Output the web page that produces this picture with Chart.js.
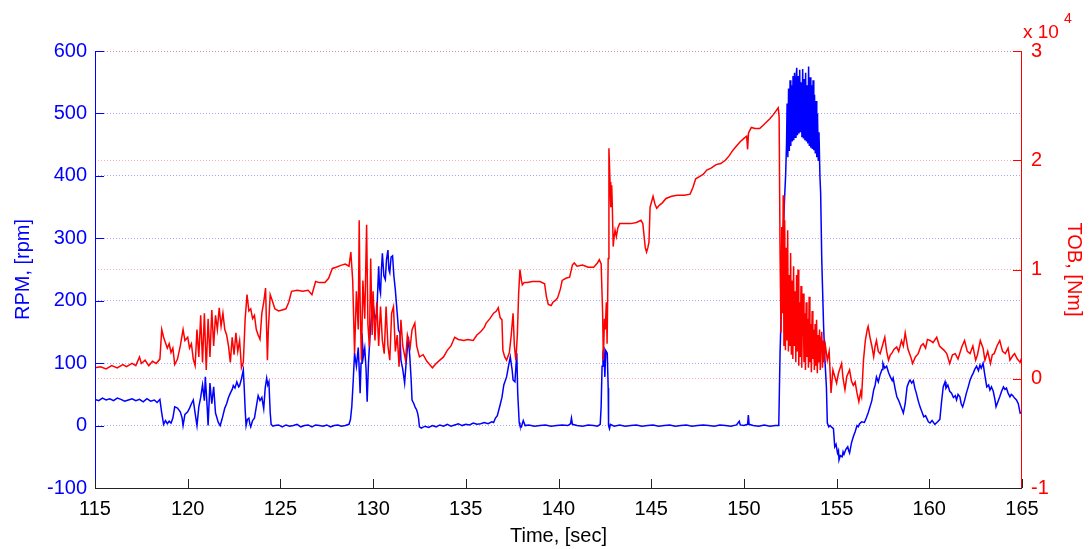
<!DOCTYPE html>
<html>
<head>
<meta charset="utf-8">
<title>RPM and TOB vs time</title>
<script src="https://cdn.jsdelivr.net/npm/chart.js@4.4.1/dist/chart.umd.min.js"></script>
<style>
  html, body { margin: 0; padding: 0; background: #fff; }
  #wrap { width: 1089px; height: 549px; position: relative; }
</style>
</head>
<body>
<div id="wrap"><canvas id="rpmTobChart"></canvas></div>
<script>
// rotary speed, [rpm]
const rpmTime = [
  115.0, 115.2, 115.4, 115.6, 115.8, 116.0, 116.2, 116.4, 116.6, 116.8, 117.0, 117.2, 117.4, 117.6, 117.8, 118.0, 118.2, 118.35, 118.5, 118.6,
  118.7, 118.8, 118.9, 119.0, 119.1, 119.2, 119.3, 119.45, 119.6, 119.7, 119.75, 119.85, 120.0, 120.1, 120.2, 120.3, 120.4, 120.5, 120.6, 120.7,
  120.8, 120.9, 120.95, 121.05, 121.1, 121.2, 121.3, 121.4, 121.5, 121.56, 121.65, 121.75, 121.85, 121.9, 122.0, 122.1, 122.2, 122.3, 122.4, 122.46,
  122.55, 122.65, 122.75, 122.8, 122.9, 123.0, 123.05, 123.1, 123.15, 123.22, 123.3, 123.35, 123.4, 123.5, 123.6, 123.7, 123.8, 123.9, 124.0, 124.1,
  124.18, 124.26, 124.32, 124.38, 124.45, 124.5, 124.6, 124.7, 124.9, 125.1, 125.3, 125.5, 125.7, 125.9, 126.1, 126.3, 126.5, 126.7, 126.9, 127.1,
  127.3, 127.5, 127.7, 127.9, 128.1, 128.3, 128.5, 128.7, 128.78, 128.85, 128.93, 129.0, 129.1, 129.2, 129.25, 129.3, 129.35, 129.4, 129.47, 129.55,
  129.62, 129.68, 129.75, 129.83, 129.9, 130.0, 130.1, 130.2, 130.3, 130.35, 130.4, 130.45, 130.5, 130.58, 130.66, 130.72, 130.8, 130.85, 130.9, 130.97,
  131.05, 131.12, 131.2, 131.3, 131.37, 131.45, 131.5, 131.6, 131.7, 131.78, 131.9, 131.98, 132.05, 132.1, 132.2, 132.26, 132.35, 132.4, 132.45, 132.5,
  132.6, 132.8, 133.0, 133.2, 133.4, 133.6, 133.8, 134.0, 134.2, 134.4, 134.6, 134.8, 135.0, 135.2, 135.4, 135.6, 135.8, 136.0, 136.2, 136.4,
  136.5, 136.6, 136.7, 136.85, 136.95, 137.05, 137.2, 137.3, 137.4, 137.5, 137.55, 137.65, 137.75, 137.8, 137.88, 137.92, 138.0, 138.1, 138.2, 138.4,
  138.7, 139.0, 139.3, 139.6, 139.9, 140.2, 140.5, 140.65, 140.7, 140.75, 141.0, 141.3, 141.6, 141.9, 142.1, 142.25, 142.3, 142.35, 142.4, 142.45,
  142.5, 142.55, 142.63, 142.68, 142.7, 142.75, 142.8, 143.0, 143.3, 143.6, 143.9, 144.2, 144.5, 144.8, 145.1, 145.4, 145.7, 146.0, 146.3, 146.6,
  146.9, 147.2, 147.5, 147.8, 148.1, 148.4, 148.7, 149.0, 149.3, 149.6, 149.75, 149.8, 150.0, 150.2, 150.24, 150.28, 150.5, 150.8, 151.1, 151.4,
  151.7, 151.88, 151.95, 152.04, 152.13, 152.2, 152.25, 152.3, 152.33, 152.37, 152.41, 152.45, 152.49, 152.53, 152.57, 152.61, 152.65, 152.69, 152.73, 152.77,
  152.81, 152.85, 152.89, 152.93, 152.97, 153.01, 153.05, 153.09, 153.13, 153.17, 153.21, 153.25, 153.29, 153.33, 153.37, 153.41, 153.45, 153.49, 153.53, 153.57,
  153.61, 153.65, 153.69, 153.73, 153.77, 153.81, 153.85, 153.89, 153.93, 153.97, 154.01, 154.05, 154.1, 154.14, 154.2, 154.3, 154.37, 154.45, 154.5, 154.58,
  154.65, 154.75, 154.83, 154.9, 154.97, 155.05, 155.1, 155.13, 155.2, 155.3, 155.35, 155.4, 155.5, 155.6, 155.65, 155.7, 155.8, 155.9, 156.0, 156.1,
  156.17, 156.24, 156.35, 156.5, 156.6, 156.7, 156.8, 156.9, 157.0, 157.08, 157.15, 157.25, 157.35, 157.45, 157.5, 157.6, 157.7, 157.8, 157.9, 158.0,
  158.05, 158.15, 158.25, 158.35, 158.4, 158.5, 158.6, 158.7, 158.8, 158.9, 158.96, 159.05, 159.14, 159.22, 159.3, 159.4, 159.5, 159.6, 159.7, 159.8,
  159.86, 159.95, 160.04, 160.15, 160.3, 160.45, 160.57, 160.65, 160.75, 160.85, 160.9, 161.0, 161.1, 161.2, 161.3, 161.4, 161.47, 161.55, 161.65, 161.72,
  161.8, 161.9, 162.0, 162.1, 162.2, 162.3, 162.37, 162.45, 162.55, 162.65, 162.73, 162.8, 162.9, 163.0, 163.1, 163.2, 163.27, 163.35, 163.45, 163.55,
  163.6, 163.7, 163.8, 163.9, 164.0, 164.08, 164.16, 164.25, 164.35, 164.42, 164.5, 164.6, 164.7, 164.8, 164.9, 165.0
];
const rpmValues = [
  42, 40, 44, 41, 43, 40, 44, 42, 39, 41, 43, 40, 42, 38, 43, 39, 41, 37, 42, 20,
  2, 8, 3, 7, 4, 12, 30, 28, 22, 12, 0, 18, 22, 28, 35, 41, 20, 0, 30, 45,
  65, 40, 78, 30, 0, 68, 35, 62, 20, 14, 5, 0, 10, 16, 28, 35, 45, 52, 58, 64,
  60, 70, 62, 64, 75, 89, 60, 25, 0, 10, 12, 3, -2, 8, 12, 30, 48, 40, 45, 27,
  60, 76, 65, 70, 21, 2, -1, 0, 1, -2, 1, -1, 0, 2, -2, 0, 1, -2, 1, 0,
  -1, 1, -2, 0, 1, -1, 0, 2, 10, 30, 73, 116, 95, 125, 90, 52, 100, 148, 110, 124,
  90, 38, 100, 142, 170, 196, 170, 180, 255, 220, 212, 250, 276, 240, 234, 265, 281, 250, 245, 270,
  272, 240, 217, 180, 153, 148, 105, 90, 68, 100, 142, 110, 75, 41, 35, 30, 25, 20, 12, -2,
  -4, -1, -3, 0, -2, 1, -1, 2, -1, 1, 3, 0, 2, 1, 4, 2, 3, 5, 3, 6,
  5, 12, 16, 33, 45, 65, 78, 95, 110, 89, 73, 70, 116, 52, 5, 0, -2, 8, 0, 1,
  -1, 0, 1, -1, 0, 1, 0, 3, 12, 2, 0, -1, 1, 0, -1, 2, 30, 95, 116, 126,
  78, 120, 116, 60, 0, -5, 2, -1, 1, -1, 0, 1, -1, 0, 1, -1, 0, 1, -1, 0,
  1, -1, 0, 1, 0, -1, 1, 0, -1, 1, 7, 1, 0, 2, 17, 2, 0, -1, 1, -1,
  0, 0, 116, 212, 319, 368, 400, 452, 516, 430, 540, 440, 553, 448, 545, 455, 560, 457, 565, 462,
  555, 573, 465, 560, 468, 570, 470, 550, 462, 571, 460, 555, 457, 565, 455, 545, 452, 575, 448, 558,
  445, 545, 443, 553, 441, 530, 436, 520, 430, 500, 425, 470, 400, 372, 265, 158, 105, 62, 4, -2,
  0, -3, -5, -34, -30, -44, -40, -55, -48, -50, -42, -46, -38, -34, -40, -44, -28, -18, -10, 0,
  -2, 3, 6, 5, 12, 20, 30, 40, 57, 65, 78, 70, 82, 90, 100, 92, 95, 85, 78, 72,
  76, 60, 46, 40, 36, 28, 20, 35, 62, 70, 73, 68, 72, 60, 52, 40, 30, 22, 14, 16,
  12, 6, 4, 8, 2, 6, 10, 35, 62, 70, 60, 65, 55, 52, 45, 48, 41, 50, 46, 35,
  30, 40, 52, 62, 73, 80, 84, 90, 95, 88, 97, 92, 100, 80, 62, 65, 57, 62, 55, 40,
  30, 38, 46, 55, 62, 58, 60, 52, 46, 50, 48, 44, 41, 35, 20, 22
];

// torque on bit, [Nm] x 10^4
const tobTime = [
  115.0, 115.3, 115.6, 115.9, 116.2, 116.5, 116.7, 117.0, 117.2, 117.4, 117.5, 117.7, 117.9, 118.1, 118.3, 118.5, 118.6, 118.7, 118.8, 118.9,
  119.0, 119.1, 119.2, 119.3, 119.45, 119.6, 119.75, 119.85, 120.0, 120.1, 120.2, 120.3, 120.4, 120.5, 120.6, 120.7, 120.8, 120.9, 121.0, 121.1,
  121.2, 121.3, 121.4, 121.5, 121.6, 121.7, 121.8, 121.9, 122.0, 122.1, 122.2, 122.3, 122.4, 122.5, 122.6, 122.7, 122.8, 122.9, 123.0, 123.1,
  123.2, 123.3, 123.4, 123.5, 123.6, 123.7, 123.8, 123.9, 124.0, 124.1, 124.2, 124.3, 124.35, 124.45, 124.55, 124.7, 124.9, 125.1, 125.3, 125.45,
  125.6, 125.9, 126.2, 126.5, 126.7, 126.9, 127.1, 127.4, 127.6, 127.8, 128.0, 128.3, 128.5, 128.7, 128.8, 128.9, 129.0, 129.1, 129.2, 129.25,
  129.3, 129.37, 129.45, 129.55, 129.65, 129.72, 129.8, 129.87, 129.95, 130.0, 130.1, 130.2, 130.3, 130.4, 130.5, 130.6, 130.7, 130.8, 130.9, 131.0,
  131.1, 131.2, 131.3, 131.4, 131.5, 131.6, 131.75, 131.85, 132.0, 132.1, 132.25, 132.35, 132.5, 132.7, 132.9, 133.05, 133.2, 133.4, 133.6, 133.8,
  134.0, 134.2, 134.4, 134.6, 134.9, 135.1, 135.4, 135.6, 135.8, 136.0, 136.1, 136.3, 136.5, 136.65, 136.75, 136.85, 136.95, 137.0, 137.1, 137.2,
  137.35, 137.45, 137.55, 137.62, 137.7, 137.78, 137.85, 137.92, 138.0, 138.05, 138.15, 138.3, 138.6, 139.0, 139.25, 139.35, 139.45, 139.6, 139.7, 139.85,
  139.95, 140.1, 140.2, 140.4, 140.6, 140.75, 140.85, 141.0, 141.3, 141.6, 141.9, 142.1, 142.2, 142.3, 142.38, 142.42, 142.48, 142.52, 142.58, 142.62,
  142.68, 142.72, 142.78, 142.82, 142.87, 142.9, 142.95, 143.0, 143.05, 143.12, 143.2, 143.3, 143.6, 143.9, 144.2, 144.45, 144.55, 144.62, 144.68, 144.75,
  144.82, 144.88, 144.94, 145.02, 145.1, 145.2, 145.3, 145.45, 145.6, 145.8, 146.1, 146.4, 146.8, 147.1, 147.25, 147.4, 147.6, 147.8, 148.0, 148.25,
  148.5, 148.75, 149.0, 149.2, 149.4, 149.6, 149.8, 150.0, 150.15, 150.2, 150.25, 150.4, 150.6, 150.85, 151.1, 151.4, 151.6, 151.85, 151.9, 151.95,
  152.0, 152.04, 152.08, 152.12, 152.16, 152.2, 152.24, 152.28, 152.32, 152.36, 152.4, 152.44, 152.48, 152.52, 152.56, 152.6, 152.64, 152.68, 152.72, 152.76,
  152.8, 152.84, 152.88, 152.92, 152.96, 153.0, 153.04, 153.08, 153.12, 153.16, 153.2, 153.24, 153.28, 153.32, 153.36, 153.4, 153.44, 153.48, 153.52, 153.56,
  153.6, 153.64, 153.68, 153.72, 153.76, 153.8, 153.84, 153.88, 153.92, 153.96, 154.0, 154.04, 154.08, 154.12, 154.16, 154.2, 154.24, 154.28, 154.32, 154.4,
  154.5, 154.6, 154.7, 154.8, 154.9, 155.0, 155.1, 155.27, 155.35, 155.45, 155.55, 155.7, 155.8, 155.9, 156.0, 156.1, 156.2, 156.3, 156.35, 156.45,
  156.55, 156.65, 156.7, 156.8, 156.9, 157.0, 157.08, 157.15, 157.25, 157.35, 157.5, 157.6, 157.7, 157.8, 157.9, 157.97, 158.1, 158.24, 158.35, 158.5,
  158.6, 158.7, 158.85, 159.0, 159.1, 159.25, 159.4, 159.55, 159.67, 159.8, 159.9, 160.04, 160.2, 160.4, 160.55, 160.67, 160.8, 160.94, 161.1, 161.25,
  161.4, 161.55, 161.75, 161.9, 162.05, 162.2, 162.35, 162.5, 162.6, 162.75, 162.9, 163.0, 163.15, 163.3, 163.4, 163.5, 163.65, 163.8, 163.95, 164.1,
  164.25, 164.35, 164.5, 164.6, 164.75, 164.9, 165.0
];
const tobValues = [
  0.10, 0.11, 0.09, 0.12, 0.10, 0.13, 0.11, 0.14, 0.12, 0.20, 0.14, 0.17, 0.12, 0.16, 0.14, 0.18, 0.45, 0.38, 0.33, 0.28,
  0.32, 0.24, 0.28, 0.13, 0.18, 0.30, 0.45, 0.35, 0.38, 0.28, 0.32, 0.18, 0.12, 0.45, 0.20, 0.58, 0.15, 0.60, 0.08, 0.55,
  0.20, 0.63, 0.30, 0.58, 0.45, 0.65, 0.48, 0.60, 0.45, 0.40, 0.30, 0.15, 0.38, 0.22, 0.42, 0.25, 0.35, 0.10, 0.15, 0.55,
  0.77, 0.62, 0.64, 0.55, 0.58, 0.45, 0.40, 0.36, 0.60, 0.70, 0.83, 0.17, 0.45, 0.77, 0.72, 0.64, 0.62, 0.63, 0.64, 0.70,
  0.80, 0.81, 0.80, 0.81, 0.77, 0.89, 0.88, 0.88, 0.92, 1.01, 1.02, 1.04, 1.05, 1.03, 1.16, 0.90, 0.23, 0.80, 0.45, 1.45,
  0.70, 0.17, 0.90, 0.55, 1.41, 0.50, 0.29, 1.10, 0.40, 0.80, 0.35, 0.70, 0.30, 0.66, 0.35, 0.23, 0.66, 0.30, 0.17, 0.60,
  0.66, 0.25, 0.40, 0.11, 0.54, 0.30, 0.17, 0.40, 0.29, 0.45, 0.51, 0.30, 0.20, 0.22, 0.16, 0.13, 0.10, 0.14, 0.17, 0.20,
  0.26, 0.30, 0.38, 0.36, 0.35, 0.36, 0.35, 0.40, 0.43, 0.47, 0.51, 0.55, 0.60, 0.62, 0.65, 0.56, 0.54, 0.26, 0.20, 0.17,
  0.24, 0.40, 0.60, 0.30, 0.17, 0.40, 0.78, 1.00, 0.90, 0.86, 0.88, 0.88, 0.89, 0.89, 0.87, 0.75, 0.68, 0.67, 0.70, 0.72,
  0.74, 0.82, 0.90, 0.92, 0.93, 1.04, 1.06, 1.03, 1.04, 1.02, 1.02, 1.06, 1.09, 1.05, 0.60, 0.17, 0.55, 0.45, 0.70, 0.32,
  1.10, 2.11, 1.80, 1.57, 1.77, 1.60, 1.21, 1.30, 1.36, 1.30, 1.38, 1.42, 1.42, 1.42, 1.43, 1.45, 1.42, 1.30, 1.20, 1.16,
  1.20, 1.25, 1.57, 1.62, 1.67, 1.60, 1.56, 1.59, 1.61, 1.65, 1.67, 1.68, 1.68, 1.69, 1.75, 1.83, 1.85, 1.87, 1.91, 1.93,
  1.96, 1.97, 2.00, 2.04, 2.09, 2.13, 2.17, 2.20, 2.22, 2.10, 2.25, 2.30, 2.29, 2.29, 2.33, 2.38, 2.42, 2.48, 2.40, 1.15,
  0.42, 1.39, 0.60, 1.68, 0.30, 1.45, 0.26, 1.20, 0.35, 1.36, 0.25, 0.95, 0.30, 1.15, 0.22, 0.90, 0.18, 1.03, 0.30, 0.80,
  0.15, 0.95, 0.25, 1.00, 0.12, 0.70, 0.20, 0.85, 0.10, 0.65, 0.78, 0.15, 0.60, 0.08, 0.70, 0.20, 0.55, 0.10, 0.75, 0.15,
  0.50, 0.06, 0.62, 0.18, 0.45, 0.08, 0.50, 0.12, 0.54, 0.05, 0.40, 0.15, 0.45, 0.08, 0.38, 0.43, 0.10, 0.35, 0.15, 0.30,
  0.17, 0.25, -0.13, 0.08, 0.02, -0.04, 0.05, 0.14, 0.00, -0.10, 0.02, 0.08, -0.02, -0.06, -0.03, -0.13, -0.21, -0.12, -0.16, 0.17,
  0.35, 0.45, 0.48, 0.38, 0.30, 0.20, 0.30, 0.35, 0.25, 0.23, 0.32, 0.38, 0.25, 0.17, 0.22, 0.23, 0.27, 0.29, 0.25, 0.35,
  0.30, 0.42, 0.27, 0.20, 0.14, 0.20, 0.23, 0.30, 0.32, 0.28, 0.36, 0.35, 0.33, 0.38, 0.30, 0.28, 0.26, 0.23, 0.14, 0.22,
  0.23, 0.18, 0.29, 0.35, 0.25, 0.23, 0.30, 0.17, 0.22, 0.35, 0.28, 0.17, 0.25, 0.14, 0.22, 0.23, 0.30, 0.35, 0.25, 0.23,
  0.28, 0.17, 0.21, 0.23, 0.18, 0.15, 0.20
];

// axis ticks
const timeTicks = [115, 120, 125, 130, 135, 140, 145, 150, 155, 160, 165];
const rpmTicks = [-100, 0, 100, 200, 300, 400, 500, 600];
const tobTicks = [-1, 0, 1, 2, 3];

const FONT = "'Liberation Sans', Arial, Helvetica, sans-serif";
const BLUE = '#0000ff';
const RED = '#ff0000';

const toPoints = (xs, ys) => xs.map((x, i) => ({ x, y: ys[i] }));

// MATLAB-like frame: inward tick marks, coloured axis lines, exponent label
const axesFrame = {
  id: 'axesFrame',
  afterDraw(chart) {
    const { ctx, chartArea: a, scales } = chart;
    const len = 9;
    ctx.save();
    ctx.lineWidth = 1;

    ctx.strokeStyle = BLUE;
    ctx.beginPath();
    ctx.moveTo(a.left + 0.5, a.top); ctx.lineTo(a.left + 0.5, a.bottom);
    rpmTicks.forEach(v => {
      const y = Math.round(scales.rpm.getPixelForValue(v)) + 0.5;
      ctx.moveTo(a.left, y); ctx.lineTo(a.left + len, y);
    });
    ctx.stroke();

    ctx.strokeStyle = RED;
    ctx.beginPath();
    ctx.moveTo(a.right - 0.5, a.top); ctx.lineTo(a.right - 0.5, a.bottom);
    tobTicks.forEach(v => {
      const y = Math.round(scales.tob.getPixelForValue(v)) + 0.5;
      ctx.moveTo(a.right, y); ctx.lineTo(a.right - len, y);
    });
    ctx.stroke();

    ctx.strokeStyle = '#222';
    ctx.beginPath();
    ctx.moveTo(a.left, a.bottom + 0.5); ctx.lineTo(a.right, a.bottom + 0.5);
    timeTicks.forEach(v => {
      const x = Math.round(scales.x.getPixelForValue(v)) + 0.5;
      ctx.moveTo(x, a.bottom); ctx.lineTo(x, a.bottom - len);
    });
    ctx.stroke();

    ctx.fillStyle = RED;
    ctx.textBaseline = 'alphabetic';
    ctx.textAlign = 'left';
    ctx.font = '19px ' + FONT;
    ctx.fillText('x 10', a.right + 1, 38);
    ctx.font = '14px ' + FONT;
    ctx.fillText('4', a.right + 42, 23);
    ctx.restore();
  }
};

new Chart(document.getElementById('rpmTobChart'), {
  type: 'line',
  data: {
    datasets: [
      {
        label: 'TOB',
        data: toPoints(tobTime, tobValues),
        yAxisID: 'tob',
        borderColor: RED,
        borderWidth: 1.5,
        pointRadius: 0,
        tension: 0,
        order: 0,
      },
      {
        label: 'RPM',
        data: toPoints(rpmTime, rpmValues),
        yAxisID: 'rpm',
        borderColor: BLUE,
        borderWidth: 1.5,
        pointRadius: 0,
        tension: 0,
        order: 1,
      },
    ],
  },
  options: {
    responsive: true,
    maintainAspectRatio: false,
    animation: false,
    layout: { padding: { top: 51, left: 0, right: 0, bottom: 0 } },
    plugins: { legend: { display: false }, tooltip: { enabled: false } },
    scales: {
      x: {
        type: 'linear',
        position: 'bottom',
        min: 115,
        max: 165,
        afterBuildTicks: s => { s.ticks = timeTicks.map(v => ({ value: v })); },
        afterFit: s => { s.height = 61; },
        ticks: { color: '#000', font: { family: FONT, size: 20 }, padding: 9, maxRotation: 0 },
        grid: { display: false, drawTicks: false },
        border: { display: false },
        title: { display: true, text: 'Time, [sec]', color: '#000', font: { family: FONT, size: 20 }, padding: { bottom: 1 } },
      },
      rpm: {
        type: 'linear',
        position: 'left',
        min: -100,
        max: 600,
        afterBuildTicks: s => { s.ticks = rpmTicks.map(v => ({ value: v })); },
        afterFit: s => { s.width = 95; },
        ticks: { color: BLUE, font: { family: FONT, size: 20 }, padding: 8 },
        grid: { color: 'rgba(90,90,255,0.55)', lineWidth: 1, drawTicks: false },
        border: { display: false, dash: [1, 2] },
        title: { display: true, text: 'RPM, [rpm]', color: BLUE, font: { family: FONT, size: 20 }, padding: { top: 11 } },
      },
      tob: {
        type: 'linear',
        position: 'right',
        min: -1,
        max: 3,
        afterBuildTicks: s => { s.ticks = tobTicks.map(v => ({ value: v })); },
        afterFit: s => { s.width = 67; },
        ticks: { color: RED, font: { family: FONT, size: 20 }, padding: 9 },
        grid: { color: 'rgba(255,110,110,0.55)', lineWidth: 1, drawTicks: false },
        border: { display: false, dash: [1, 2] },
        title: { display: true, text: 'TOB, [Nm]', color: RED, font: { family: FONT, size: 20 }, padding: { top: 3 } },
      },
    },
  },
  plugins: [axesFrame],
});
</script>
</body>
</html>
